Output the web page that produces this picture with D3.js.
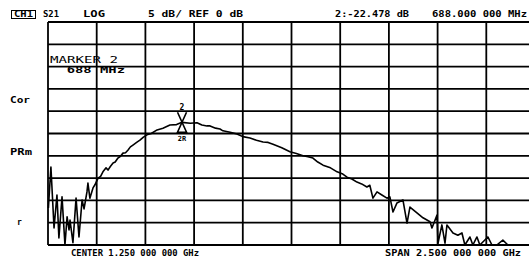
<!DOCTYPE html>
<html>
<head>
<meta charset="utf-8">
<script src="https://cdn.jsdelivr.net/npm/d3@7"></script>
<style>
  html, body { margin: 0; padding: 0; background: #fff; overflow: hidden; }
  svg { display: block; }
  text { font-family: "DejaVu Sans Mono", monospace; fill: #000; }
</style>
</head>
<body>
<script>
// trace: S21 magnitude
const freqMHz = [2, 15, 31, 46, 56, 72, 87, 98, 108, 113, 128, 144, 159, 175, 185, 200, 205, 215, 231, 241,
    257, 270, 282, 298, 308, 320, 334, 345, 359, 372, 385, 398, 411, 423, 436, 455, 472, 490, 508, 530,
    560, 590, 626, 660, 688, 730, 765, 790, 816, 832, 860, 883, 898, 935, 970, 1000, 1037, 1070, 1104, 1130,
    1155, 1200, 1242, 1275, 1309, 1335, 1360, 1385, 1412, 1450, 1484, 1510, 1535, 1560, 1586, 1610, 1637, 1652, 1668, 1689,
    1714, 1740, 1755, 1771, 1791, 1822, 1843, 1858, 1894, 1925, 1961, 1971, 1997, 2002, 2022, 2038, 2048, 2079, 2104, 2125,
    2140, 2166, 2181, 2202, 2217, 2258, 2279, 2304, 2335, 2361, 2500];
const magDb = [-41.7, -32.5, -46.2, -38.8, -48.4, -39.2, -50, -43.7, -46.6, -44.4, -49.5, -39.5, -48.2, -39.9, -41.9, -38.1, -36.1, -39.5, -37.2, -36.5,
    -35.0, -34.6, -33.6, -32.7, -33.2, -32.4, -31.6, -31.4, -30.5, -30.1, -29.4, -29.3, -28.7, -28.0, -27.6, -27.0, -26.5, -25.8, -25.3, -25.0,
    -24.2, -23.8, -23.1, -23.0, -22.5, -22.7, -22.6, -23.1, -23.3, -23.3, -23.8, -24.0, -24.4, -24.7, -25.1, -25.7, -26.0, -26.5, -26.9, -27.0,
    -27.4, -28.2, -29.1, -29.5, -30.0, -30.2, -30.5, -31.4, -32.1, -32.7, -33.6, -34.0, -34.8, -35.2, -35.9, -36.3, -37.0, -36.6, -39.5, -38.1,
    -38.8, -39.5, -39.2, -42.6, -40.6, -39.9, -45.1, -41.5, -42.8, -43.9, -44.8, -46.2, -43.3, -49.6, -45.5, -49.6, -45.5, -47.3, -47.8, -47.3,
    -50, -48.2, -50, -48.2, -50, -48.2, -50, -50, -48.9, -50, -50];

const markerFreq = 688;
const markerDb = -22.478;

const headerLeft = ["S21", "LOG", "5 dB/ REF 0 dB"];
const headerRight = ["2:-22.478 dB", "688.000 000 MHz"];
const sideLabels = ["Cor", "PRm", "r"];
const markerLines = ["MARKER 2", "  688 MHz"];
const footer = ["CENTER 1.250 000 000 GHz", "SPAN 2.500 000 000 GHz"];

const width = 529, height = 259;
const margin = {top: 22, left: 48, bottom: 14};
const plotW = 487, plotH = 223;

const svg = d3.select("body").append("svg")
    .attr("width", width)
    .attr("height", height);

const x = d3.scaleLinear().domain([0, 2500]).range([margin.left, margin.left + plotW]);
const y = d3.scaleLinear().domain([-50, 0]).range([margin.top + plotH, margin.top]);

// graticule, 10 x 10 divisions
const grid = svg.append("g").attr("stroke", "#000").attr("stroke-width", 1.8);
grid.selectAll("line.v")
    .data(d3.range(0, 2501, 250))
    .join("line")
    .attr("x1", d => x(d)).attr("x2", d => x(d))
    .attr("y1", y(0)).attr("y2", y(-50));
grid.selectAll("line.h")
    .data(d3.range(-50, 1, 5))
    .join("line")
    .attr("x1", x(0)).attr("x2", x(2500))
    .attr("y1", d => y(d)).attr("y2", d => y(d));

// trace
const line = d3.line()
    .x(d => x(d[0]))
    .y(d => y(Math.max(-50, d[1])));
svg.append("path")
    .datum(freqMHz.map((f, i) => [f, magDb[i]]))
    .attr("fill", "none")
    .attr("stroke", "#000")
    .attr("stroke-width", 1.6)
    .attr("stroke-linejoin", "round")
    .attr("d", line);

// marker 2
const mx = x(markerFreq), my = y(markerDb);
svg.append("path")
    .attr("d", `M${mx - 4.5},${my - 10} L${mx + 4.5},${my + 10} L${mx - 4.5},${my + 10} L${mx + 4.5},${my - 10}`)
    .attr("fill", "none")
    .attr("stroke", "#000")
    .attr("stroke-width", 1.6);
svg.append("text").attr("x", mx).attr("y", my - 12)
    .attr("text-anchor", "middle").attr("font-size", 8).attr("font-weight", "bold").text("2");
svg.append("text").attr("x", mx).attr("y", my + 19)
    .attr("text-anchor", "middle").attr("font-size", 7).attr("font-weight", "bold").text("2R");

// marker readout inside the graticule
const mk = svg.append("g").attr("font-size", 9);
mk.append("text").attr("x", 50).attr("y", 63).attr("textLength", 68).attr("lengthAdjust", "spacingAndGlyphs").text(markerLines[0]);
mk.append("text").attr("x", 50).attr("y", 73).attr("textLength", 75).attr("lengthAdjust", "spacingAndGlyphs")
    .attr("xml:space", "preserve").attr("font-weight", "bold").text(markerLines[1]);

// header
const hdr = svg.append("g").attr("font-size", 8).attr("font-weight", "bold");
hdr.append("rect").attr("x", 11.5).attr("y", 10.5).attr("width", 24).attr("height", 8)
    .attr("fill", "none").attr("stroke", "#000").attr("stroke-width", 1);
hdr.append("text").attr("x", 14).attr("y", 17).attr("textLength", 19).attr("lengthAdjust", "spacingAndGlyphs").text("CH1");
const hdrPos = [[43, 16], [83, 22], [148, 95]];
headerLeft.forEach((t, i) => {
    hdr.append("text").attr("x", hdrPos[i][0]).attr("y", 17)
        .attr("textLength", hdrPos[i][1]).attr("lengthAdjust", "spacingAndGlyphs").text(t);
});
const hdrPosR = [[335, 74], [432, 95]];
headerRight.forEach((t, i) => {
    hdr.append("text").attr("x", hdrPosR[i][0]).attr("y", 17)
        .attr("textLength", hdrPosR[i][1]).attr("lengthAdjust", "spacingAndGlyphs").text(t);
});

// left margin annotations
const side = svg.append("g").attr("font-size", 8).attr("font-weight", "bold");
side.append("text").attr("x", 10).attr("y", 103).attr("textLength", 20).attr("lengthAdjust", "spacingAndGlyphs").text(sideLabels[0]);
side.append("text").attr("x", 10).attr("y", 155).attr("textLength", 22).attr("lengthAdjust", "spacingAndGlyphs").text(sideLabels[1]);
side.append("text").attr("x", 17).attr("y", 225).text(sideLabels[2]);

// footer
const ft = svg.append("g").attr("font-size", 8).attr("font-weight", "bold");
ft.append("text").attr("x", 71).attr("y", 256).attr("textLength", 128).attr("lengthAdjust", "spacingAndGlyphs").text(footer[0]);
ft.append("text").attr("x", 385).attr("y", 256).attr("textLength", 136).attr("lengthAdjust", "spacingAndGlyphs").text(footer[1]);
</script>
</body>
</html>
